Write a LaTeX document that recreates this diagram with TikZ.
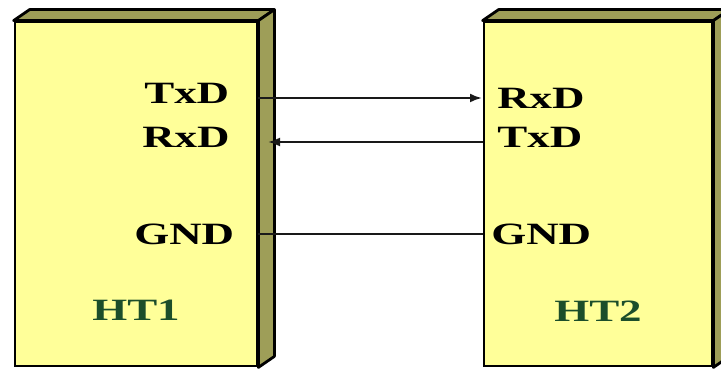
\documentclass[tikz,border=0pt]{standalone}
\usepackage{fontspec}
\setmainfont{Liberation Serif}
\usetikzlibrary{arrows.meta}
\definecolor{boxyellow}{RGB}{255,255,153}
\definecolor{boxolive}{RGB}{158,158,88}
\definecolor{labgreen}{RGB}{28,78,42}
\tikzset{
  front/.style={draw=black, line width=2.8pt, fill=boxyellow, rectangle, inner sep=0pt},
  face/.style={draw=black, line width=2.8pt, fill=boxolive, line join=round},
  sig/.style={font=\fontsize{31}{31}\selectfont\bfseries, text=black, anchor=base west, inner sep=0pt, xscale=1.45},
  ht/.style={sig, text=labgreen},
  wire/.style={draw=black!90, line width=2.2pt},
  arr/.style={wire, -{Latex[length=12pt,width=9pt]}}
}
\begin{document}
\begin{tikzpicture}[x=1pt,y=-1pt]
\useasboundingbox (0,0) rectangle (721,371);
% Box HT1
\node[front, minimum width=242pt, minimum height=344pt] (b1) at (136,194) {};
\draw[face] (b1.north west) -- ++(16,-11) -- ([shift={(16,-11)}]b1.north east) -- (b1.north east) -- cycle;
\draw[face] (b1.north east) -- ++(16,-11) -- ([shift={(16,-11)}]b1.south east) -- (b1.south east) -- cycle;
% Box HT2
\node[front, minimum width=228pt, minimum height=344pt] (b2) at (598,194) {};
\draw[face] (b2.north west) -- ++(16,-11) -- ([shift={(16,-11)}]b2.north east) -- (b2.north east) -- cycle;
\draw[face] (b2.north east) -- ++(16,-11) -- ([shift={(16,-11)}]b2.south east) -- (b2.south east) -- cycle;
% Labels
\node[sig] (t1) at (144,104) {TxD};
\node[sig] (r1) at (142,148) {RxD};
\node[sig] (g1) at (134,245) {GND};
\node[ht]  (h1) at (92,321) {HT1};
\node[sig] (r2) at (497,109) {RxD};
\node[sig] (t2) at (497,148) {TxD};
\node[sig] (g2) at (491,245) {GND};
\node[ht]  (h2) at (554,322) {HT2};
% Wire levels
\coordinate (ya) at (0,98);
\coordinate (yb) at (0,142);
\coordinate (yc) at (0,234);
\coordinate (rxtip) at (268,142);
\coordinate (txtip) at (482,98);
% Connectors
\draw[arr] (b1.east |- ya) -- (txtip);
\draw[arr] (b2.west |- yb) -- (rxtip);
\draw[wire] (b1.east |- yc) -- (b2.west |- yc);
\end{tikzpicture}
\end{document}
